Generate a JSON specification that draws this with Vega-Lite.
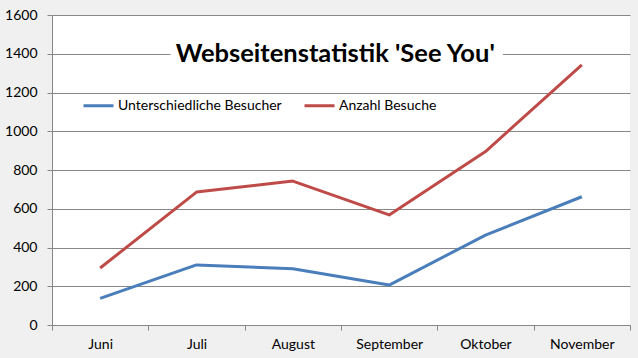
{
  "$schema": "https://vega.github.io/schema/vega-lite/v6.json",
  "width": 578,
  "height": 310,
  "autosize": "none",
  "padding": {"left": 52, "top": 15, "right": 8, "bottom": 33},
  "background": "#f0f0f0",
  "config": {
    "view": {"fill": "white", "stroke": null},
    "font": "Lato",
    "axis": {
      "domainColor": "#878787",
      "tickColor": "#878787",
      "gridColor": "#878787",
      "tickSize": 5,
      "labelColor": "black",
      "labelFontSize": 14,
      "labelFont": "Lato",
      "labelOverlap": false,
      "title": null
    },
    "axisX": {"grid": false, "tickBand": "extent", "labelPadding": 7, "labelAngle": 0},
    "axisY": {"grid": true, "labelPadding": 10, "format": "d"}
  },
  "layer": [
    {
      "data": {"values": [{"title": "Webseitenstatistik 'See You'"}]},
      "layer": [
        {
          "mark": {"type": "rect", "color": "white"},
          "encoding": {
            "x": {"datum": 1.23, "type": "quantitative", "scale": {"domain": [0, 6], "nice": false, "zero": false}, "axis": null},
            "x2": {"datum": 4.68},
            "y": {"datum": 1330, "type": "quantitative", "scale": {"domain": [0, 1600], "nice": false}, "axis": {"values": [0, 200, 400, 600, 800, 1000, 1200, 1400, 1600]}},
            "y2": {"datum": 1470}
          }
        },
        {
          "mark": {"type": "text", "font": "Lato", "fontWeight": "bold", "fontSize": 25.5, "color": "black", "align": "center", "baseline": "middle"},
          "encoding": {
            "x": {"datum": 2.94, "type": "quantitative", "scale": {"domain": [0, 6], "nice": false, "zero": false}, "axis": null},
            "y": {"datum": 1400, "type": "quantitative", "scale": {"domain": [0, 1600], "nice": false}, "axis": {"values": [0, 200, 400, 600, 800, 1000, 1200, 1400, 1600]}},
            "text": {"field": "title"}
          }
        }
      ]
    },
    {
      "data": {
        "values": [
          {"monat": "Juni", "serie": "Unterschiedliche Besucher", "wert": 137},
          {"monat": "Juli", "serie": "Unterschiedliche Besucher", "wert": 310},
          {"monat": "August", "serie": "Unterschiedliche Besucher", "wert": 290},
          {"monat": "September", "serie": "Unterschiedliche Besucher", "wert": 206},
          {"monat": "Oktober", "serie": "Unterschiedliche Besucher", "wert": 464},
          {"monat": "November", "serie": "Unterschiedliche Besucher", "wert": 662},
          {"monat": "Juni", "serie": "Anzahl Besuche", "wert": 294},
          {"monat": "Juli", "serie": "Anzahl Besuche", "wert": 686},
          {"monat": "August", "serie": "Anzahl Besuche", "wert": 743},
          {"monat": "September", "serie": "Anzahl Besuche", "wert": 568},
          {"monat": "Oktober", "serie": "Anzahl Besuche", "wert": 895},
          {"monat": "November", "serie": "Anzahl Besuche", "wert": 1343}
        ]
      },
      "mark": {"type": "line", "strokeWidth": 3, "strokeJoin": "round"},
      "encoding": {
        "x": {
          "field": "monat", "type": "ordinal",
          "sort": ["Juni", "Juli", "August", "September", "Oktober", "November"],
          "scale": {"type": "band", "paddingInner": 0, "paddingOuter": 0}
        },
        "y": {
          "field": "wert", "type": "quantitative",
          "scale": {"domain": [0, 1600], "nice": false},
          "axis": {"values": [0, 200, 400, 600, 800, 1000, 1200, 1400, 1600]}
        },
        "color": {
          "field": "serie", "type": "nominal",
          "scale": {"domain": ["Unterschiedliche Besucher", "Anzahl Besuche"], "range": ["#4a7ebb", "#be4b48"]},
          "legend": {
            "orient": "none", "legendX": 30, "legendY": 74, "direction": "horizontal",
            "title": null, "symbolType": "stroke", "symbolStrokeWidth": 3, "symbolSize": 900,
            "labelFontSize": 14, "labelFont": "Lato", "labelColor": "black", "labelLimit": 400,
            "columnPadding": 16, "labelOffset": 3
          }
        }
      }
    }
  ],
  "resolve": {"scale": {"x": "independent"}}
}
